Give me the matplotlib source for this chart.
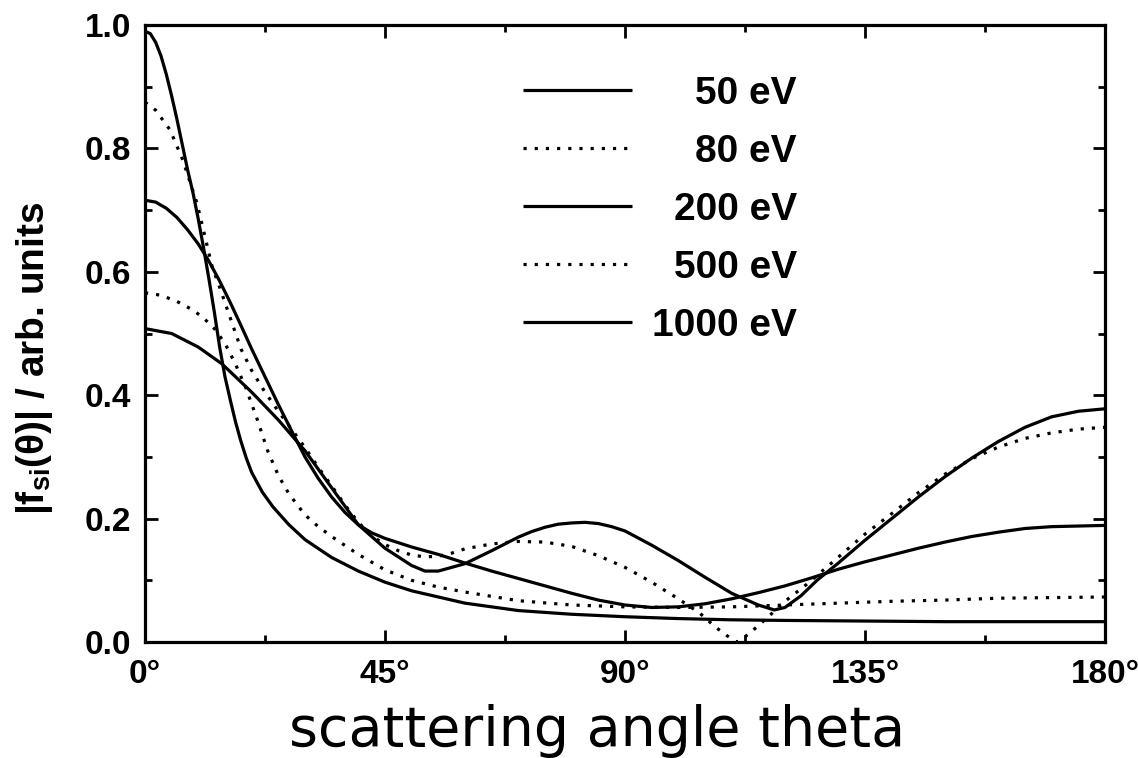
import matplotlib
matplotlib.use("Agg")
import matplotlib.pyplot as plt
from matplotlib.ticker import MultipleLocator, FixedLocator, FormatStrFormatter

plt.rcParams["font.family"] = ["Liberation Sans", "DejaVu Sans"]
plt.rcParams["font.weight"] = "bold"
plt.rcParams["mathtext.fontset"] = "custom"
plt.rcParams["mathtext.rm"] = "Liberation Sans:bold"
plt.rcParams["mathtext.default"] = "rm"

# ------------------------------------------------------------------ #
#  Data (theta in degrees, |f| in arb. units)
# ------------------------------------------------------------------ #
theta_50 = [0, 5, 10, 14.4, 20, 25, 30, 35, 40, 45, 50, 52.5, 55, 60, 65, 70,
            72.5, 75, 77.5, 80, 82.5, 85, 87.5, 90, 95, 100, 105, 110, 115,
            118, 120, 123, 126, 130, 135, 140, 145, 150, 155, 160, 165, 170,
            175, 180]
f_50 = [0.508, 0.500, 0.478, 0.451, 0.405, 0.360, 0.310, 0.250, 0.190, 0.152,
        0.124, 0.115, 0.115, 0.127, 0.148, 0.170, 0.179, 0.186, 0.191, 0.193,
        0.194, 0.192, 0.187, 0.180, 0.157, 0.132, 0.105, 0.079, 0.060, 0.052,
        0.056, 0.075, 0.100, 0.128, 0.165, 0.200, 0.235, 0.268, 0.298, 0.325,
        0.348, 0.365, 0.374, 0.378]

theta_80 = [0, 3, 6, 9, 11, 13, 15, 17, 19, 21, 23, 25, 27, 30, 32.5, 35, 40,
            45, 50, 55, 60, 65, 70, 80, 90, 100, 110, 120, 130, 140, 150, 160,
            170, 180]
f_80 = [0.566, 0.562, 0.552, 0.538, 0.525, 0.508, 0.484, 0.450, 0.410, 0.362,
        0.310, 0.270, 0.240, 0.206, 0.187, 0.171, 0.142, 0.117, 0.100, 0.089,
        0.081, 0.074, 0.067, 0.060, 0.057, 0.056, 0.057, 0.060, 0.063, 0.066,
        0.068, 0.071, 0.072, 0.073]

theta_200 = [0, 2, 4, 6, 8, 10, 12, 14, 16, 18, 20, 22.5, 25, 27.5, 30, 32.5,
             35, 37.5, 40, 42.5, 45, 50, 55, 60, 65, 70, 75, 80, 85, 90, 95,
             100, 105, 110, 115, 120, 125, 130, 135, 140, 145, 150, 155, 160,
             165, 170, 175, 180]
f_200 = [0.716, 0.713, 0.703, 0.688, 0.668, 0.645, 0.617, 0.585, 0.550, 0.513,
         0.475, 0.430, 0.385, 0.342, 0.300, 0.265, 0.235, 0.210, 0.190, 0.177,
         0.168, 0.154, 0.142, 0.128, 0.115, 0.103, 0.091, 0.079, 0.068, 0.060,
         0.056, 0.057, 0.062, 0.070, 0.080, 0.091, 0.104, 0.118, 0.130, 0.141,
         0.152, 0.162, 0.171, 0.178, 0.184, 0.187, 0.188, 0.189]

theta_500 = [0, 2, 4.7, 7.1, 9.75, 12.6, 14, 16, 18, 20, 22.5, 25, 27.5, 30,
             32.5, 35, 37.5, 40, 42.5, 45, 47.5, 50, 52.5, 55, 57.5, 60, 65,
             70, 75, 80, 85, 90, 95, 100, 104, 107, 109, 111, 112, 114, 117,
             120, 124, 129, 135, 140, 145, 150, 155, 160, 165, 170, 175, 180]
f_500 = [0.875, 0.862, 0.830, 0.781, 0.711, 0.608, 0.575, 0.525, 0.475, 0.440,
         0.405, 0.374, 0.345, 0.315, 0.283, 0.253, 0.222, 0.194, 0.172, 0.158,
         0.148, 0.141, 0.138, 0.139, 0.144, 0.151, 0.159, 0.163, 0.162, 0.155,
         0.140, 0.121, 0.097, 0.070, 0.047, 0.024, 0.011, 0.000, 0.005, 0.019,
         0.042, 0.066, 0.093, 0.130, 0.175, 0.208, 0.242, 0.272, 0.297, 0.316,
         0.330, 0.339, 0.345, 0.348]

theta_1000 = [0, 1, 2, 3, 4, 5, 6, 7, 8, 9, 10, 11, 12, 13, 14, 15, 16, 17, 18,
              19, 20, 22, 24, 27, 30, 35, 40, 45, 50, 55, 60, 70, 80, 90, 100,
              110, 120, 135, 150, 165, 180]
f_1000 = [0.990, 0.986, 0.972, 0.950, 0.920, 0.885, 0.847, 0.806, 0.765, 0.728,
          0.685, 0.638, 0.588, 0.535, 0.478, 0.430, 0.392, 0.356, 0.325, 0.298,
          0.275, 0.243, 0.219, 0.190, 0.166, 0.137, 0.115, 0.097, 0.083, 0.073,
          0.063, 0.051, 0.045, 0.041, 0.038, 0.036, 0.035, 0.034, 0.033, 0.033,
          0.033]

energies = ["50 eV", "80 eV", "200 eV", "500 eV", "1000 eV"]
styles = ["-", (0, (1, 2.5)), "-", (0, (1, 2.5)), "-"]

x_ticks = [0, 45, 90, 135, 180]
x_ticklabels = ["0°", "45°", "90°", "135°", "180°"]

series = [(theta_50, f_50), (theta_80, f_80), (theta_200, f_200),
          (theta_500, f_500), (theta_1000, f_1000)]

# ------------------------------------------------------------------ #
#  Figure
# ------------------------------------------------------------------ #
fig = plt.figure(figsize=(11.38, 7.58), dpi=100)
ax = fig.add_axes([0.1274, 0.153, 0.8436, 0.814])

for (th, f), ls in zip(series, styles):
    ax.plot(th, f, color="black", linestyle=ls, linewidth=2.3,
            solid_capstyle="butt")

ax.set_xlim(0, 180)
ax.set_ylim(0, 1.0)

ax.xaxis.set_major_locator(FixedLocator(x_ticks))
ax.set_xticklabels(x_ticklabels)
ax.xaxis.set_minor_locator(MultipleLocator(22.5))
ax.yaxis.set_major_locator(MultipleLocator(0.2))
ax.yaxis.set_minor_locator(MultipleLocator(0.1))
ax.yaxis.set_major_formatter(FormatStrFormatter("%.1f"))

ax.tick_params(which="both", direction="in", top=True, right=True, width=2,
               labelsize=24)
ax.tick_params(which="major", length=9)
ax.tick_params(which="minor", length=5)
ax.tick_params(axis="x", which="major", pad=12)
ax.tick_params(axis="y", which="major", pad=10)
for t in ax.get_xticklabels() + ax.get_yticklabels():
    t.set_fontweight("bold")
for sp in ax.spines.values():
    sp.set_linewidth(2.3)

ax.set_xlabel("scattering angle theta", family="DejaVu Sans",
              fontweight="normal", fontsize=40)
ax.xaxis.set_label_coords(0.471, -0.1)
ax.set_ylabel(r"|f$_{si}$(θ)| / arb. units", fontsize=28, fontweight="bold")
ax.yaxis.set_label_coords(-0.094, 0.46)

# legend: key lines on the left, labels right-aligned
leg_x0, leg_x1, leg_xt = 0.394, 0.507, 0.679
row_top, row_step = (642 - 90) / 617, 58 / 617
for i, (label, ls) in enumerate(zip(energies, styles)):
    y = row_top - i * row_step
    ax.plot([leg_x0, leg_x1], [y, y], transform=ax.transAxes, color="black",
            linestyle=ls, linewidth=2.3, solid_capstyle="butt")
    ax.text(leg_xt, y - 14 / 617, label, transform=ax.transAxes, ha="right",
            va="baseline", fontsize=28, fontweight="bold")

fig.savefig("out.png", dpi=100)
